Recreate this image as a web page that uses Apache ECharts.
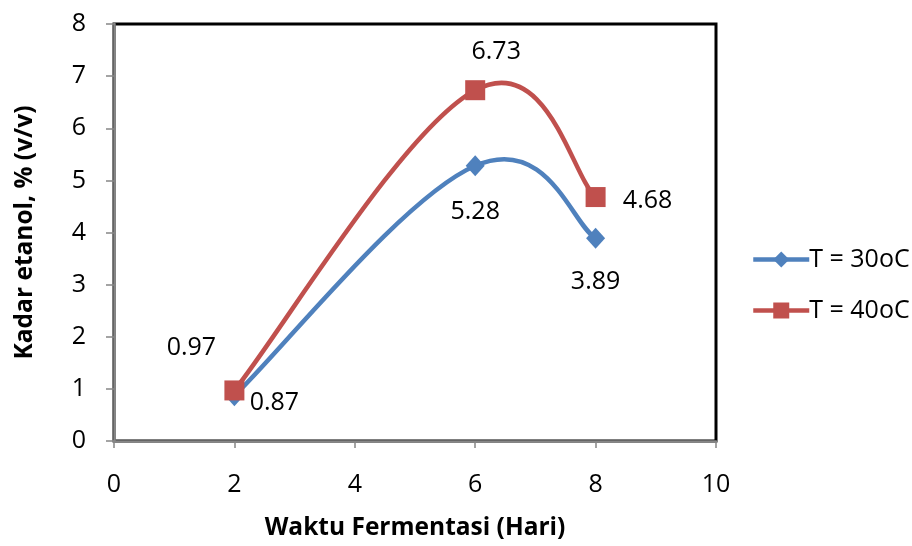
<!DOCTYPE html>
<html><head><meta charset="utf-8">
<script src="https://cdn.jsdelivr.net/npm/echarts@6/dist/echarts.min.js"></script>
<style>html,body{margin:0;padding:0;background:#fff}#c{width:912px;height:546px}</style>
</head><body><div id="c"></div>
<script>
const days = [2, 6, 8];
const t30 = [0.87, 5.28, 3.89];
const t40 = [0.97, 6.73, 4.68];
const seriesNames = ['T = 30oC', 'T = 40oC'];
const xTitle = 'Waktu Fermentasi (Hari)';
const yTitle = 'Kadar etanol, % (v/v)';

const FONT = 'Open Sans';
const BLUE = '#4F81BD', RED = '#C0504D';
const lblBase = {show: true, position: 'inside', color: '#000', fontSize: 25, fontFamily: FONT,
  formatter: p => p.value[1].toFixed(2)};
const off30 = [[40, 7], [0, 46], [0, 44]];
const off40 = [[-43, -43], [21, -38], [52, 4]];

function mk(ys, offs) {
  return ys.map((v, i) => ({value: [days[i], v], label: Object.assign({}, lblBase, {offset: offs[i]})}));
}

// Excel-like smoothed curve through the data points, using the chart's own coordinate system
function smoothPath(ys, color) {
  return function (params, api) {
    if (params.dataIndex !== 0) return null;
    const P = ys.map((v, i) => api.coord([days[i], v]));
    const k = 0.2;
    let d = 'M' + P[0][0] + ' ' + P[0][1];
    for (let i = 0; i < P.length - 1; i++) {
      const p0 = P[i - 1] || P[i], p1 = P[i], p2 = P[i + 1], p3 = P[i + 2] || P[i + 1];
      const c1 = [p1[0] + (p2[0] - p0[0]) * k, p1[1] + (p2[1] - p0[1]) * k];
      const c2 = [p2[0] - (p3[0] - p1[0]) * k, p2[1] - (p3[1] - p1[1]) * k];
      d += ' C' + c1.join(' ') + ' ' + c2.join(' ') + ' ' + p2.join(' ');
    }
    return {type: 'path', shape: {pathData: d}, style: {stroke: color, lineWidth: 4.5, fill: 'none', lineCap: 'round', lineJoin: 'round'}};
  };
}

const chart = echarts.init(document.getElementById('c'));
chart.setOption({
  animation: false,
  backgroundColor: '#fff',
  grid: {left: 114, right: 196, top: 24, bottom: 97, show: true, borderColor: '#000', borderWidth: 3, backgroundColor: 'transparent'},
  legend: {
    orient: 'vertical', left: 746, top: 242, itemGap: 26, itemWidth: 56, itemHeight: 20,
    textStyle: {fontSize: 25, fontFamily: FONT, color: '#000', padding: [6, 0, 0, -5]},
    lineStyle: {width: 4.5, opacity: 1},
    data: seriesNames
  },
  xAxis: {
    type: 'value', min: 0, max: 10, interval: 2,
    name: xTitle, nameLocation: 'middle', nameGap: 75,
    nameTextStyle: {fontSize: 24.5, fontWeight: 'bold', fontFamily: FONT, color: '#000'},
    axisLine: {show: true, lineStyle: {color: '#868686', width: 2.5}},
    axisTick: {show: true, length: 7, lineStyle: {color: '#868686', width: 1.5}},
    axisLabel: {fontSize: 25, fontFamily: FONT, color: '#000', margin: 31},
    splitLine: {show: false}
  },
  yAxis: {
    type: 'value', min: 0, max: 8, interval: 1,
    name: yTitle, nameLocation: 'middle', nameGap: 76, nameRotate: 90,
    nameTextStyle: {fontSize: 24.5, fontWeight: 'bold', fontFamily: FONT, color: '#000'},
    axisLine: {show: true, lineStyle: {color: '#868686', width: 2.5}},
    axisTick: {show: true, length: 8, lineStyle: {color: '#868686', width: 1.5}},
    axisLabel: {fontSize: 25, fontFamily: FONT, color: '#000', margin: 28, padding: [8, 0, 0, 0]},
    splitLine: {show: false}
  },
  series: [
    {id: 'curve30', type: 'custom', z: 1, data: days.map((d, i) => [d, t30[i]]),
     encode: {x: 0, y: 1}, renderItem: smoothPath(t30, BLUE), silent: true},
    {id: 'curve40', type: 'custom', z: 1, data: days.map((d, i) => [d, t40[i]]),
     encode: {x: 0, y: 1}, renderItem: smoothPath(t40, RED), silent: true},
    {name: seriesNames[0], type: 'line', z: 3, data: mk(t30, off30),
     symbol: 'diamond', symbolSize: [19, 21], color: BLUE,
     lineStyle: {width: 4.5, color: BLUE, opacity: 0}, itemStyle: {color: BLUE}},
    {name: seriesNames[1], type: 'line', z: 4, data: mk(t40, off40),
     symbol: 'rect', symbolSize: 20, color: RED,
     lineStyle: {width: 4.5, color: RED, opacity: 0}, itemStyle: {color: RED}}
  ]
});
</script></body></html>
